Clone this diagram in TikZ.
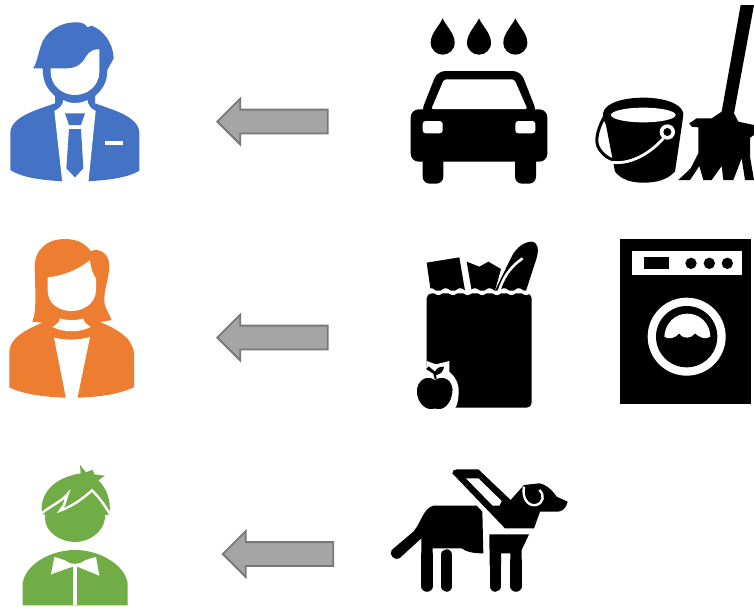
\documentclass[tikz,border=0pt]{standalone}
\usepackage{tikz}
\usetikzlibrary{shapes.arrows}
\definecolor{manblue}{HTML}{4472C4}
\definecolor{womanorange}{HTML}{ED7D31}
\definecolor{boygreen}{HTML}{70AD47}
\definecolor{arrowgray}{HTML}{A5A5A5}
\definecolor{arrowline}{HTML}{787878}
\begin{document}
\begin{tikzpicture}[
  x=1pt, y=-1pt,
  blockarrow/.style={single arrow, draw=arrowline, fill=arrowgray, line width=1.8pt, shape border rotate=180,
    single arrow head extend=11pt, single arrow head indent=0pt, inner sep=11pt, minimum height=110.5pt, anchor=tip},
  zoomed/.style={shift={#1}, scale=1/3},
  icon/.style={fill=black},
  gap/.style={fill=white},
  gapline/.style={draw=white, line width=#1},
  leg/.style={draw=black, line width=11.5pt, line cap=round}]
\useasboundingbox (0,0) rectangle (754,606);
% ---------------- man ----------------
\begin{scope}[zoomed={(0,0)}]
\fill[manblue] (99,205) .. controls (112,190) and (115,150) .. (130,120) .. controls (150,85) and (190,67) .. (225,67)
  .. controls (240,67) and (255,68) .. (262,82) -- (275,77) .. controls (310,90) and (340,130) .. (341,175)
  -- (322,210) .. controls (322,250) and (305,270) .. (285,288) -- (285,310) .. controls (340,330) and (418,350) .. (418,400)
  -- (418,512) .. controls (380,535) and (320,540) .. (265,544)
  -- (187,544) .. controls (130,540) and (70,535) .. (31,510) -- (31,400) .. controls (31,350) and (110,330) .. (165,310)
  -- (165,288) .. controls (145,270) and (128,250) .. (128,205) -- cycle;
\fill[white] (152,205) -- (200,205) .. controls (235,205) and (250,185) .. (258,170) .. controls (268,152) and (285,147) .. (298,148)
  -- (298,215) .. controls (298,260) and (260,285) .. (225,285) .. controls (190,285) and (152,260) .. (152,215) -- cycle;
\fill[white] (187,548) -- (163,333) .. controls (180,325) and (188,315) .. (190,300) .. controls (210,312) and (240,312) .. (262,300)
  .. controls (264,315) and (272,325) .. (287,333) -- (265,548) -- cycle;
\fill[manblue] (195,340) -- (255,340) -- (243,375) -- (207,375) -- cycle;
\fill[manblue] (207,387) -- (243,387) -- (250,505) -- (225,532) -- (199,505) -- cycle;
\fill[white] (316,423) rectangle (370,436);
\end{scope}
% ---------------- woman ----------------
\begin{scope}[zoomed={(0,225)}]
\fill[womanorange] (97,290) .. controls (110,260) and (106,200) .. (104,130) .. controls (102,75) and (140,42) .. (195,42)
  .. controls (230,42) and (255,55) .. (272,78) .. controls (300,68) and (328,85) .. (328,125) .. controls (326,170) and (305,210) .. (316,245)
  -- (335,285) -- (300,291) .. controls (350,312) and (402,340) .. (402,390) -- (402,487)
  .. controls (350,510) and (290,516) .. (232,518) -- (198,518) .. controls (140,516) and (75,510) .. (28,487)
  -- (28,380) .. controls (28,340) and (80,312) .. (128,293) -- cycle;
\fill[white] (143,157) .. controls (190,152) and (235,135) .. (270,105) .. controls (272,130) and (280,150) .. (288,160)
  -- (288,195) .. controls (288,235) and (250,258) .. (215,258) .. controls (175,258) and (143,235) .. (143,195) -- cycle;
\fill[white] (180,280) .. controls (200,287) and (230,287) .. (250,280) .. controls (252,292) and (260,298) .. (272,306)
  .. controls (240,323) and (190,323) .. (157,306) .. controls (170,298) and (178,292) .. (180,280) -- cycle;
\fill[white] (162,338) .. controls (195,346) and (235,346) .. (270,336) -- (232,520) -- (198,520) -- cycle;
\end{scope}
% ---------------- boy ----------------
\begin{scope}[zoomed={(0,455)}]
\fill[boygreen] (126,178) .. controls (118,125) and (150,70) .. (242,55) -- (240,30) -- (258,52) -- (278,44) -- (283,58) -- (315,62)
  -- (295,76) .. controls (315,95) and (335,130) .. (328,180) -- cycle;
\fill[boygreen] (135,170) -- (315,170) -- (315,190) .. controls (310,230) and (270,261) .. (225,261) .. controls (180,261) and (135,230) .. (135,190) -- cycle;
\draw[gapline=2.4pt, line join=miter] (124,175) .. controls (150,155) and (190,135) .. (203,117) -- (192,150) -- (180,167)
  .. controls (215,155) and (250,130) .. (276,106) .. controls (295,125) and (315,150) .. (332,182);
\fill[boygreen] (68,451) -- (68,385) .. controls (75,330) and (150,285) .. (225,285) .. controls (300,285) and (375,330) .. (383,385) -- (383,451) -- cycle;
\fill[white] (163,306) .. controls (185,312) and (195,315) .. (205,322) .. controls (215,328) and (235,328) .. (245,322)
  .. controls (255,315) and (270,310) .. (288,306) -- (298,362) -- (232,335) -- (218,335) -- (153,358) -- cycle;
\fill[white] (220,330) rectangle (232,451);
\end{scope}
% ---------------- arrows ----------------
\node[blockarrow] (arrowA) at (216,121.5) {};
\node[blockarrow] (arrowB) at (216,337.5) {};
\node[blockarrow] (arrowC) at (221.5,554) {};
% ---------------- car, bucket, broom ----------------
\begin{scope}[zoomed={(400,0)}]
\foreach \x in {128,237,346} {
  \fill[icon] (\x,55) .. controls (\x+8,75) and (\x+36,100) .. (\x+36,128) .. controls (\x+36,150) and (\x+18,164) .. (\x,164)
    .. controls (\x-18,164) and (\x-36,150) .. (\x-36,128) .. controls (\x-36,100) and (\x-8,75) .. (\x,55) -- cycle;
}
\fill[icon, rounded corners=8pt] (112,213) -- (362,213) -- (412,340) -- (62,340) -- cycle;
\fill[icon, rounded corners=8pt] (32,328) rectangle (442,485);
\fill[icon, rounded corners=7pt] (68,460) rectangle (130,551);
\fill[icon, rounded corners=7pt] (345,460) rectangle (408,551);
\fill[gap, rounded corners=2pt] (132,238) -- (343,238) -- (382,327) -- (94,327) -- cycle;
\fill[gap, rounded corners=3pt] (68,363) rectangle (128,400);
\fill[gap, rounded corners=3pt] (346,363) rectangle (406,400);
% bucket
\fill[icon] (609,340) .. controls (615,305) and (680,293) .. (730,293) .. controls (790,293) and (845,310) .. (850,340)
  -- (848,360) -- (825,515) .. controls (800,540) and (770,548) .. (730,548) .. controls (695,548) and (665,540) .. (645,515)
  -- (618,375) .. controls (612,365) and (609,355) .. (609,340) -- cycle;
\fill[gap] (730,345) ellipse [x radius=97, y radius=22];
\draw[black, line width=3pt] (612,352) .. controls (595,385) and (580,425) .. (600,450) .. controls (610,465) and (625,475) .. (640,480);
\draw[gapline=2.8pt] (636,487) .. controls (700,495) and (760,450) .. (790,415);
\fill[gap] (802,396) circle [radius=23];
\fill[icon] (802,396) circle [radius=12];
% broom
\fill[icon] (1022,15) -- (1062,15) -- (1002,340) -- (1015,365) -- (1062,375) -- (1062,405) -- (1050,413) -- (1050,470) -- (1062,540)
  -- (1035,540) -- (1025,475) -- (1000,540) -- (970,540) -- (965,498) -- (935,540) -- (910,540) -- (898,498) -- (870,540) -- (835,540)
  -- (872,505) -- (895,460) -- (895,382) -- (875,380) -- (868,370) -- (890,355) -- (935,355) -- (965,335) -- cycle;
\end{scope}
% ---------------- bag and washer ----------------
\begin{scope}[zoomed={(400,225)}]
\fill[icon] (80,113) -- (178,97) -- (195,197) -- (92,197) -- cycle;
\fill[icon] (200,110) -- (238,125) -- (265,110) -- (303,132) -- (285,197) -- (215,197) -- cycle;
\fill[icon] (285,197) -- (335,95) .. controls (350,65) and (375,50) .. (395,50) .. controls (415,52) and (418,75) .. (408,105) -- (378,197) -- cycle;
\draw[gapline=2.6pt] (296,200) .. controls (310,160) and (325,130) .. (368,100);
\fill[icon, rounded corners=5pt] (80,205) -- (395,205) -- (395,548) -- (80,548) -- cycle;
\draw[gapline=2.8pt] plot[domain=70:405, samples=80, smooth] (\x, {200+6*sin(8.2*(\x-60))});
\fill[gap] (60,425) -- (80,425) -- (80,408) -- (108,418) -- (148,408) -- (148,440) .. controls (165,455) and (178,475) .. (176,505)
  .. controls (175,525) and (172,540) .. (165,550) -- (165,560) -- (60,560) -- cycle;
\filldraw[icon, draw=white, line width=1.5pt] (105,462) .. controls (78,445) and (48,465) .. (48,500) .. controls (50,540) and (80,562) .. (105,553)
  .. controls (130,562) and (158,540) .. (160,495) .. controls (160,465) and (132,445) .. (105,462) -- cycle;
\fill[icon] (104,462) -- (100,446) -- (78,432) -- (86,424) -- (105,440) .. controls (110,428) and (120,425) .. (132,425) .. controls (130,440) and (122,448) .. (108,450) -- (110,462) -- cycle;
% washer
\fill[icon] (661,43) rectangle (1053,536);
\fill[gap] (697,79) rectangle (1025,151);
\fill[icon] (733,97) rectangle (806,133);
\foreach \x in {873,928,982} { \fill[icon] (\x,115) circle [radius=17]; }
\fill[gap] (860,335) circle [radius=117];
\fill[icon] (860,335) circle [radius=92];
\fill[gap] (793,335) .. controls (795,295) and (825,266) .. (862,266) .. controls (900,266) and (930,295) .. (931,335)
  .. controls (915,345) and (900,338) .. (885,325) .. controls (875,340) and (850,345) .. (838,325) .. controls (825,340) and (805,345) .. (793,335) -- cycle;
\end{scope}
% ---------------- dog ----------------
\begin{scope}[zoomed={(380,455)}]
\fill[icon] (217,55) .. controls (217,48) and (222,43) .. (230,43) -- (295,43) -- (392,135) -- (432,90) -- (478,85)
  .. controls (500,88) and (520,110) .. (530,125) -- (563,140) .. controls (560,155) and (550,168) .. (535,170) -- (480,170) -- (462,220) -- (375,220)
  -- cycle;
\fill[gap] (258,70) -- (295,70) -- (365,138) -- (358,152) -- (338,152) -- cycle;
\draw[gapline=2.4pt] (432,95) .. controls (425,130) and (445,155) .. (468,150) .. controls (490,145) and (495,120) .. (478,105);
\fill[icon] (160,152) -- (290,152) -- (307,170) -- (310,295) .. controls (285,295) and (260,292) .. (245,280) -- (158,280) -- (158,320) -- (124,320)
  -- (124,250) -- (58,310) .. controls (45,318) and (25,300) .. (35,285) -- (100,230) .. controls (125,200) and (130,160) .. (160,152) -- cycle;
\draw[leg] (141,300) -- (141,393);
\draw[leg] (200,300) -- (200,393);
\fill[icon] (328,238) -- (447,238) -- (425,285) -- (425,330) -- (391,330) -- (391,295) -- (363,295) -- (363,330) -- (329,330) -- cycle;
\draw[leg] (346,320) -- (346,393);
\draw[leg] (408,320) -- (408,393);
\end{scope}
\end{tikzpicture}
\end{document}
